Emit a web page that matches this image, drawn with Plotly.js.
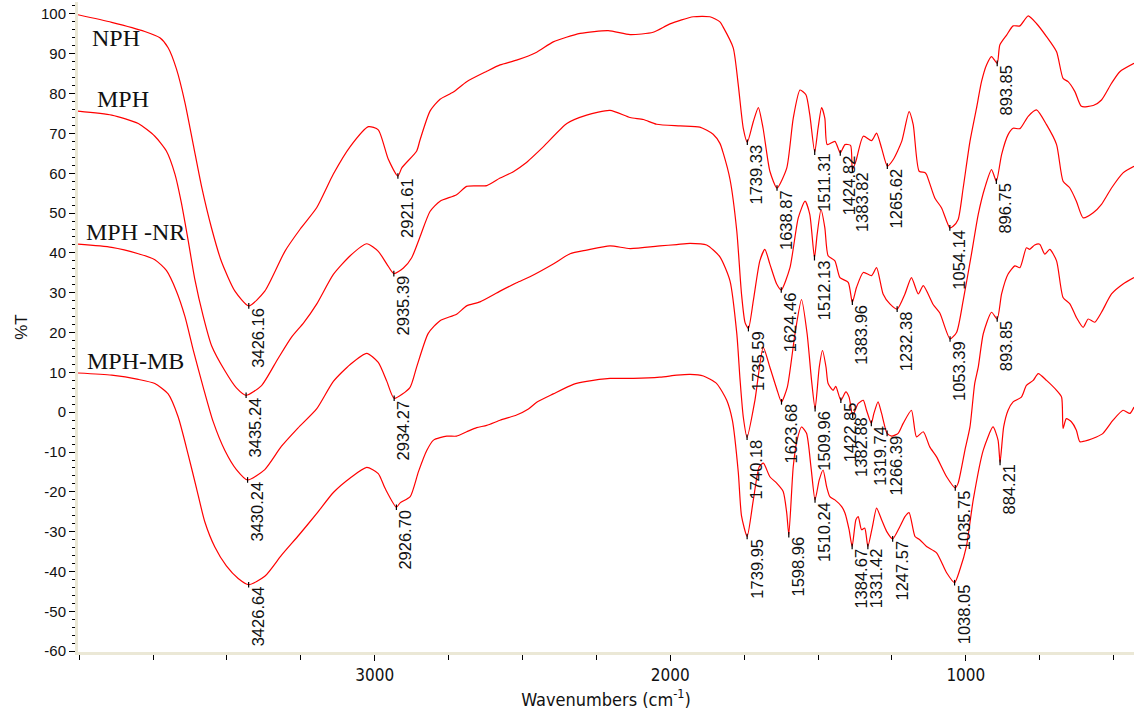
<!DOCTYPE html>
<html>
<head>
<meta charset="utf-8">
<script src="https://cdn.plot.ly/plotly-3.0.1.min.js"></script>
<style>html,body{margin:0;padding:0;background:#fff}#chart{width:1134px;height:710px}</style>
</head>
<body>
<div id="chart"></div>
<script>
// ---- data (wavenumber cm-1, %T) ----
const NPH_wn = [4004,3890,3778,3727,3699,3671,3642,3614,3586,3552,3518,3473,3426.16,3372,3304,3252,3196,3140,3083,3021,2988,2954,2921.61,2908,2858,2847,2813,2779,2734,2689,2621,2576,2520,2452,2396,2305,2210,2136,2058,2001,1922,1866,1832,1821,1787,1770,1753,1739.33,1719,1702,1686,1663,1638.87,1606,1584,1561,1541,1528,1511.31,1500,1488,1477,1469,1443,1424.82,1409,1390,1383.82,1372,1347,1319,1302,1285,1265.62,1246,1217,1192,1178,1158,1139,1133,1105,1082,1054.14,1043,1026,1009,986,964,947,930,913,893.85,885,862,840,817,789,761,727,693,671,654,631,609,569,541,507,479,431];
const NPH_T = [99.8,97.9,95.6,94.0,91.5,86.2,77.7,67.2,56.7,46.2,37.7,30.4,26.7,30.4,40.4,46.0,51.4,59.8,66.7,71.7,70.9,63.5,59.3,61.4,65.6,68.3,75.6,78.6,80.4,83.0,85.6,87.2,88.4,90.4,93.0,95.1,95.8,94.8,95.4,97.5,99.3,99.3,98.0,96.7,91.5,82.2,71.3,67.8,73.0,76.5,71.3,60.5,56.3,61.3,73.8,80.9,79.7,74.7,65.3,71.3,76.5,73.8,67.2,68.0,65.1,67.2,67.0,60.9,63.0,69.3,68.2,70.1,66.3,61.8,63.4,68.0,75.5,72.2,60.5,60.2,59.7,53.8,51.3,46.3,46.7,48.4,56.3,68.0,76.3,83.0,87.2,89.3,87.6,92.2,94.7,97.0,97.0,99.5,97.6,94.3,90.5,83.8,83.0,80.5,76.8,77.0,78.4,82.6,85.5,87.6];

const MPH_wn = [4004,3890,3800,3744,3705,3676,3654,3631,3609,3580,3552,3507,3468,3435.24,3383,3327,3282,3240,3196,3140,3083,3027,2988,2959,2935.39,2903,2875,2847,2813,2779,2723,2689,2621,2576,2531,2490,2429,2350,2283,2204,2136,2091,2046,1967,1900,1855,1832,1821,1798,1775,1759,1747,1735.59,1719,1697,1680,1663,1640,1624.46,1595,1567,1544,1528,1512.13,1503,1490,1477,1466,1443,1426,1398,1383.96,1370,1347,1319,1302,1280,1257,1232.38,1206,1184,1161,1144,1110,1088,1053.39,1031,1009,981,958,936,913,896.75,879,857,840,817,789,761,727,693,671,648,626,603,569,541,507,468,431];
const MPH_T = [75.6,74.6,72.5,69.3,65.6,59.8,52.5,43.0,33.5,24.0,16.7,10.4,6.1,4.25,6.7,13.5,18.8,22.5,27.2,34.6,39.3,42.3,40.4,37.2,34.8,36.2,38.8,44.0,50.4,53.0,54.6,56.7,56.9,58.8,60.4,62.5,66.7,72.5,74.6,75.8,74.0,73.5,72.3,71.9,71.6,69.8,67.5,65.1,58.5,45.5,29.7,22.5,21.0,28.0,38.0,40.9,37.2,32.2,30.7,36.3,48.8,53.0,49.7,38.8,44.7,50.9,46.3,39.3,38.0,33.8,32.6,27.6,31.3,35.1,34.3,36.3,29.7,27.2,25.9,29.7,33.8,29.7,31.8,27.0,24.9,18.4,20.1,28.0,39.7,49.7,56.3,60.9,58.0,64.7,69.7,71.3,71.2,74.3,75.9,72.2,67.2,58.0,56.3,53.0,48.8,50.1,52.2,56.3,60.1,61.75];

const MPHNR_wn = [4004,3890,3800,3744,3705,3671,3642,3614,3580,3547,3507,3468,3430.24,3372,3316,3260,3196,3140,3083,3027,2988,2959,2934.27,2881,2858,2819,2779,2723,2689,2644,2576,2520,2475,2396,2339,2283,2204,2136,2035,1978,1933,1877,1832,1798,1775,1764,1753,1740.18,1713.6,1685.5,1663,1640,1623.68,1604,1578,1556,1537,1522,1509.96,1496,1485,1473,1466,1449,1440,1422.85,1406,1395,1382.88,1364,1347,1336,1319.74,1311,1297,1285,1266.39,1251,1229,1212,1184,1167,1144,1122,1099,1065,1035.75,1026,1003,986,970,958,941,913,893.85,879,857,834,817,795,784,767,750,733,716,693,671,648,626,603,586,564,541,507,468,431];
const MPHNR_T = [42.2,41.4,39.8,38.3,35.6,30.4,24.0,15.6,6.2,-2.3,-9.6,-14.4,-17.0,-14.4,-8.6,-4.0,0.9,7.75,12.0,14.8,12.5,7.75,3.5,6.2,11.4,19.8,23.0,24.6,26.7,27.7,30.4,32.5,34.0,37.2,39.8,40.7,41.75,41.1,41.75,42.1,42.4,42.0,39.0,33.0,19.8,8.25,-1.2,-6.3,3.0,16.3,11.3,5.9,2.6,6.3,19.7,28.3,19.7,8.0,0.9,11.3,15.5,11.3,7.2,5.5,6.5,3.0,5.1,3.8,-0.75,2.2,3.0,0.5,-2.8,-0.3,2.6,-0.3,-5.3,-6.0,-5.3,-2.8,0.5,-6.2,-4.9,-8.7,-11.2,-16.2,-19.0,-17.8,-9.5,-3.7,7.2,11.3,19.7,25.1,23.4,29.7,34.7,36.75,36.3,41.3,40.9,42.0,42.2,39.7,40.9,38.0,28.8,27.2,23.8,21.3,23.4,22.6,25.1,29.7,32.2,33.8];

const MPHMB_wn = [4004,3890,3800,3744,3699,3665,3631,3603,3575,3541,3502,3462,3426.64,3372,3316,3255,3196,3140,3083,3027,2988,2965,2926.70,2914,2880,2852,2824,2801,2756,2723,2689,2655,2621,2576,2520,2480,2452,2396,2328,2283,2204,2125,2035,1978,1933,1888,1843,1809,1790,1770,1759,1739.95,1719,1699,1685,1663,1640,1618,1606,1598.96,1584,1571,1556,1539,1524,1510.24,1496,1483,1471,1460,1443,1420,1409,1395,1384.67,1372,1364,1353,1342,1331.42,1316,1302,1285,1268,1247.57,1223,1206,1192,1172,1156,1133,1099,1065,1038.05,1020,998,975,941,908,891,884.21,872,857,840,812,795,772,755,727,693,676,671,660,643,626,614,586,558,536,502,468,445,431];
const MPHMB_T = [9.85,9.3,8.25,7.2,4.6,-1.2,-10.7,-19.1,-27.5,-33.85,-38.6,-41.75,-43.3,-41.2,-35.95,-30.7,-25.4,-20.15,-16.5,-13.85,-15.4,-19.1,-23.85,-22.75,-21.2,-14.9,-9.6,-7.0,-6.0,-6.0,-4.9,-3.85,-3.3,-2.0,-0.7,0.8,2.5,4.6,7.0,7.75,8.5,8.5,8.8,9.3,9.5,9.1,7.2,3.0,-2.0,-15.0,-26.0,-31.2,-22.0,-13.7,-12.8,-16.2,-17.8,-19.9,-25.3,-30.75,-13.7,-7.0,-3.7,-5.3,-13.7,-22.0,-17.0,-14.5,-18.7,-21.2,-22.0,-23.7,-25.3,-29.5,-33.7,-27.0,-26.2,-29.5,-29.1,-33.7,-28.7,-24.1,-27.0,-29.9,-31.8,-28.7,-26.2,-25.2,-31.2,-32.0,-33.7,-35.3,-40.3,-42.8,-39.5,-33.7,-22.0,-9.5,-3.7,-7.0,-12.6,-3.7,0.5,2.6,3.8,6.75,8.0,9.7,8.0,5.5,3.8,-4.1,-1.6,-2.4,-4.5,-7.4,-7.0,-6.2,-5.3,-2.0,0.5,-0.3,1.3];

// peak labels (wavenumbers marked on each spectrum)
const NPH_peaks = [3426.16,2921.61,1739.33,1638.87,1511.31,1424.82,1383.82,1265.62,1054.14,893.85];
const MPH_peaks = [3435.24,2935.39,1735.59,1624.46,1512.13,1383.96,1232.38,1053.39,896.75];
const MPHNR_peaks = [3430.24,2934.27,1740.18,1623.68,1509.96,1422.85,1382.88,1319.74,1266.39,1035.75,893.85];
const MPHMB_peaks = [3426.64,2926.70,1739.95,1598.96,1510.24,1384.67,1331.42,1247.57,1038.05,884.21];

// sample names
const seriesNames = ['NPH','MPH','MPH -NR','MPH-MB'];
const nameX = [3962,3945,3983,3981];
const nameY = [93.9,78.7,45.2,12.9];

const xTicks = [1000,2000,3000];
const yTicks = [-60,-50,-40,-30,-20,-10,0,10,20,30,40,50,60,70,80,90,100];

// ---- build ----
const series = [
  {wn:NPH_wn, T:NPH_T, peaks:NPH_peaks},
  {wn:MPH_wn, T:MPH_T, peaks:MPH_peaks},
  {wn:MPHNR_wn, T:MPHNR_T, peaks:MPHNR_peaks},
  {wn:MPHMB_wn, T:MPHMB_T, peaks:MPHMB_peaks}
];

function valueAt(wn, T, x){
  for(let i=0;i<wn.length-1;i++){
    const a=wn[i], b=wn[i+1];
    if((x<=a && x>=b)){
      if(a===b) return T[i];
      return T[i] + (T[i+1]-T[i])*(x-a)/(b-a);
    }
  }
  return null;
}

const traces = [];
const annotations = [];
const mx=[], my=[];
series.forEach((s,k)=>{
  traces.push({
    x:s.wn, y:s.T, type:'scatter', mode:'lines', name:seriesNames[k],
    line:{color:'#ff0000', width:1.2, shape:'spline', smoothing:0.6},
    hoverinfo:'x+y', showlegend:false
  });
  s.peaks.forEach(p=>{
    const yv = valueAt(s.wn, s.T, p);
    mx.push(p); my.push(yv);
    annotations.push({
      x:p, y:yv, xref:'x', yref:'y', text:p.toFixed(2), showarrow:false,
      textangle:-90, xanchor:'left', yanchor:'top', xshift:-1, yshift:-1,
      font:{family:'Liberation Sans, Arial, sans-serif', size:16.5, color:'#111'},
      borderpad:0
    });
  });
  annotations.push({
    x:nameX[k], y:nameY[k], xref:'x', yref:'y', text:seriesNames[k], showarrow:false,
    xanchor:'left', yanchor:'middle',
    font:{family:'Liberation Serif, Times New Roman, serif', size:24, color:'#111'}
  });
});
traces.push({x:mx, y:my, type:'scatter', mode:'markers', showlegend:false, hoverinfo:'skip',
  marker:{symbol:'line-ns', size:4, line:{color:'#000', width:1.2}}});

const layout = {
  width:1134, height:710,
  margin:{l:78, r:0, t:2, b:58},
  paper_bgcolor:'#ffffff', plot_bgcolor:'#ffffff',
  showlegend:false,
  xaxis:{
    range:[4004, 431], tickmode:'array', tickvals:xTicks, ticktext:xTicks.map(String),
    ticks:'outside', ticklen:6, tickwidth:1, tickcolor:'#000',
    minor:{tickmode:'linear', tick0:0, dtick:250, ticks:'outside', ticklen:5, tickwidth:1, tickcolor:'#000'},
    showline:true, linecolor:'#ebe8d6', linewidth:3, showgrid:false, zeroline:false,
    tickfont:{family:'Liberation Sans Narrow, DejaVu Sans Condensed, Liberation Sans, sans-serif', size:17, color:'#111'},
    title:{text:'Wavenumbers (cm<sup>-1</sup>)', standoff:17,
      font:{family:'Liberation Sans Narrow, DejaVu Sans Condensed, Liberation Sans, sans-serif', size:18, color:'#111'}},
    automargin:false
  },
  yaxis:{
    range:[-60.2, 103], tickmode:'array', tickvals:yTicks, ticktext:yTicks.map(String),
    ticks:'outside', ticklen:6, tickwidth:1, tickcolor:'#000',
    minor:{tickmode:'linear', tick0:0, dtick:2, ticks:'outside', ticklen:3, tickwidth:1, tickcolor:'#000'},
    showline:true, linecolor:'#ebe8d6', linewidth:3, showgrid:false, zeroline:false,
    tickfont:{family:'Liberation Sans, Arial, sans-serif', size:15, color:'#111'},
    title:{text:'%T', standoff:10, font:{family:'Liberation Sans, Arial, sans-serif', size:17, color:'#111'}},
    automargin:false
  },
  annotations:annotations
};

Plotly.newPlot('chart', traces, layout, {displayModeBar:false, staticPlot:true});
</script>
</body>
</html>
